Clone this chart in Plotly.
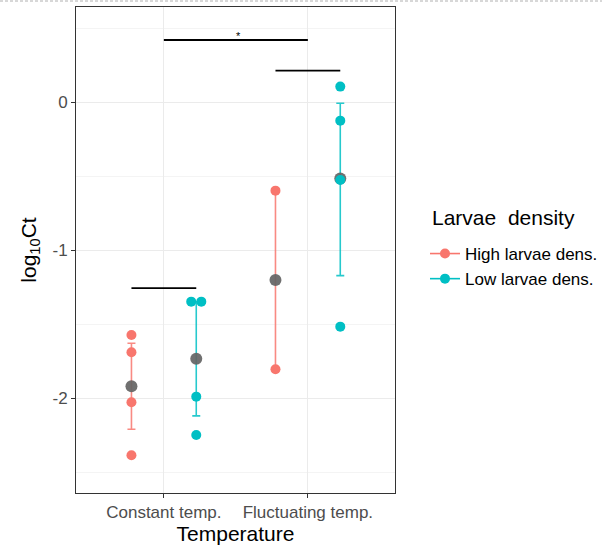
import numpy as np
import plotly.graph_objects as go

# ---------------- data ----------------
categories = ["Constant temp.", "Fluctuating temp."]
groups = ["High larvae dens.", "Low larvae dens."]
legend_title = "Larvae  density"

# individual log10Ct observations per group, per category
obs_high = [
    [-1.571, -1.688, -2.026, -2.384],   # Constant temp.
    [-0.596, -1.803],                   # Fluctuating temp.
]
obs_low = [
    [-1.346, -1.346, -1.988, -2.247],   # Constant temp.
    [0.107, -0.123, -0.524, -1.515],    # Fluctuating temp.
]
# small horizontal nudge of overlapping observations (as in the original)
nudge_high = [[0, 0, 0, 0], [0, 0]]
nudge_low = [[-0.035, 0.035, 0, 0], [0, 0, 0, 0]]

# error bar ends
high_err_top = [-1.627, -0.596]
high_err_bottom = [-2.208, -1.803]
low_err_top = [-1.346, -0.005]
low_err_bottom = [-2.118, -1.170]

# significance brackets: (from, to) as (category, group or None), height, label
bracket_from = [("Constant temp.", None), ("Fluctuating temp.", "High larvae dens."),
                ("Constant temp.", "High larvae dens.")]
bracket_to = [("Fluctuating temp.", None), ("Fluctuating temp.", "Low larvae dens."),
              ("Constant temp.", "Low larvae dens.")]
bracket_y = [0.422, 0.215, -1.255]
bracket_label = ["*", "", ""]

y_ticks = [0, -1, -2]
y_tick_labels = ["0", "-1", "-2"]

# ---------------- styling ----------------
colors = {"High larvae dens.": "#F8766D", "Low larvae dens.": "#00BFC4"}
bar_colors = {"High larvae dens.": "rgba(248,118,109,0.85)", "Low larvae dens.": "rgba(0,191,196,0.85)"}
dodge = {"High larvae dens.": -0.225, "Low larvae dens.": 0.225}
mean_color = "rgba(100,100,100,0.92)"
FONT = "Liberation Sans, Arial, sans-serif"


def pos(cat, grp=None):
    x = categories.index(cat) + 1
    if grp is not None:
        x += dodge[grp]
    return x


fig = go.Figure()

# brackets
for (c0, g0), (c1, g1), yv, lab in zip(bracket_from, bracket_to, bracket_y, bracket_label):
    x0, x1 = pos(c0, g0), pos(c1, g1)
    fig.add_trace(go.Scatter(x=[x0, x1], y=[yv, yv], mode="lines",
                             line=dict(color="black", width=1.8),
                             showlegend=False, hoverinfo="skip"))
    if lab:
        fig.add_annotation(x=(x0 + x1) / 2 + 0.02, y=yv, text=lab, showarrow=False,
                           yanchor="bottom", yshift=-4,
                           font=dict(size=11, color="black", family=FONT))

data = {
    "High larvae dens.": (obs_high, nudge_high, high_err_top, high_err_bottom),
    "Low larvae dens.": (obs_low, nudge_low, low_err_top, low_err_bottom),
}

# error bars
for g in groups:
    obs, nud, et, eb = data[g]
    xs = [pos(c, g) for c in categories]
    means = [float(np.mean(o)) for o in obs]
    fig.add_trace(go.Scatter(
        x=xs, y=means, mode="markers",
        marker=dict(size=1, color="rgba(0,0,0,0)"),
        error_y=dict(type="data", symmetric=False,
                     array=[t - m for t, m in zip(et, means)],
                     arrayminus=[m - b for b, m in zip(eb, means)],
                     color=bar_colors[g], thickness=1.6, width=4),
        showlegend=False, hoverinfo="skip"))

# means
for g in groups:
    obs = data[g][0]
    xs = [pos(c, g) for c in categories]
    means = [float(np.mean(o)) for o in obs]
    fig.add_trace(go.Scatter(x=xs, y=means, mode="markers",
                             marker=dict(size=12, color=mean_color),
                             showlegend=False))

# observations
for g in groups:
    obs, nud = data[g][0], data[g][1]
    xs, ys = [], []
    for c, o, n in zip(categories, obs, nud):
        for v, d in zip(o, n):
            xs.append(pos(c, g) + d)
            ys.append(v)
    fig.add_trace(go.Scatter(x=xs, y=ys, mode="markers",
                             marker=dict(size=10, color=colors[g]),
                             showlegend=False))

# legend keys
for g in groups:
    fig.add_trace(go.Scatter(x=[None], y=[None], mode="lines+markers", name=g,
                             marker=dict(size=10, color=colors[g]),
                             line=dict(color=colors[g], width=1.6)))

# legend title
fig.add_annotation(xref="paper", yref="paper", x=(430 - 76) / 319, y=(493 - 218) / 486,
                   xanchor="left", yanchor="middle", showarrow=False, text=legend_title,
                   font=dict(size=21, color="black", family=FONT))

# top dashed border (screenshot frame)
fig.add_shape(type="line", xref="paper", yref="paper",
              x0=-76 / 319, x1=526 / 319, y0=1 + 6 / 486, y1=1 + 6 / 486,
              line=dict(color="#b0b0b0", width=1, dash="3px,2px"))

axis_common = dict(showline=True, mirror=True, linecolor="#333333", linewidth=1,
                   ticks="outside", ticklen=4, tickcolor="#333333", tickwidth=1,
                   tickfont=dict(size=17, color="#4d4d4d", family=FONT),
                   gridcolor="#ebebeb", gridwidth=1, zeroline=False, automargin=False)

fig.update_layout(
    width=602, height=546,
    margin=dict(l=76, r=207, t=7, b=53, autoexpand=False),
    paper_bgcolor="white", plot_bgcolor="white",
    font=dict(family=FONT, color="black"),
    xaxis=dict(axis_common, range=[0.39, 2.605], tickvals=[1, 2], ticktext=categories,
               title=dict(text="Temperature", font=dict(size=21, color="black"), standoff=2)),
    yaxis=dict(axis_common, range=[-2.639, 0.645], tickvals=y_ticks, ticktext=y_tick_labels,
               minor=dict(dtick=0.5, tick0=0, showgrid=True, gridcolor="#f4f4f4", gridwidth=1, ticks=""),
               title=dict(text="log<sub>10</sub>Ct", font=dict(size=21, color="black"), standoff=10)),
    legend=dict(x=(425 - 76) / 319, xanchor="left", y=(493 - 236) / 486, yanchor="top",
                font=dict(size=17, color="black"), bgcolor="rgba(0,0,0,0)",
                tracegroupgap=0, itemwidth=30),
    showlegend=True,
)

fig.write_html("out.html", config={"displayModeBar": False},
               post_script="document.body.style.margin='0';")
